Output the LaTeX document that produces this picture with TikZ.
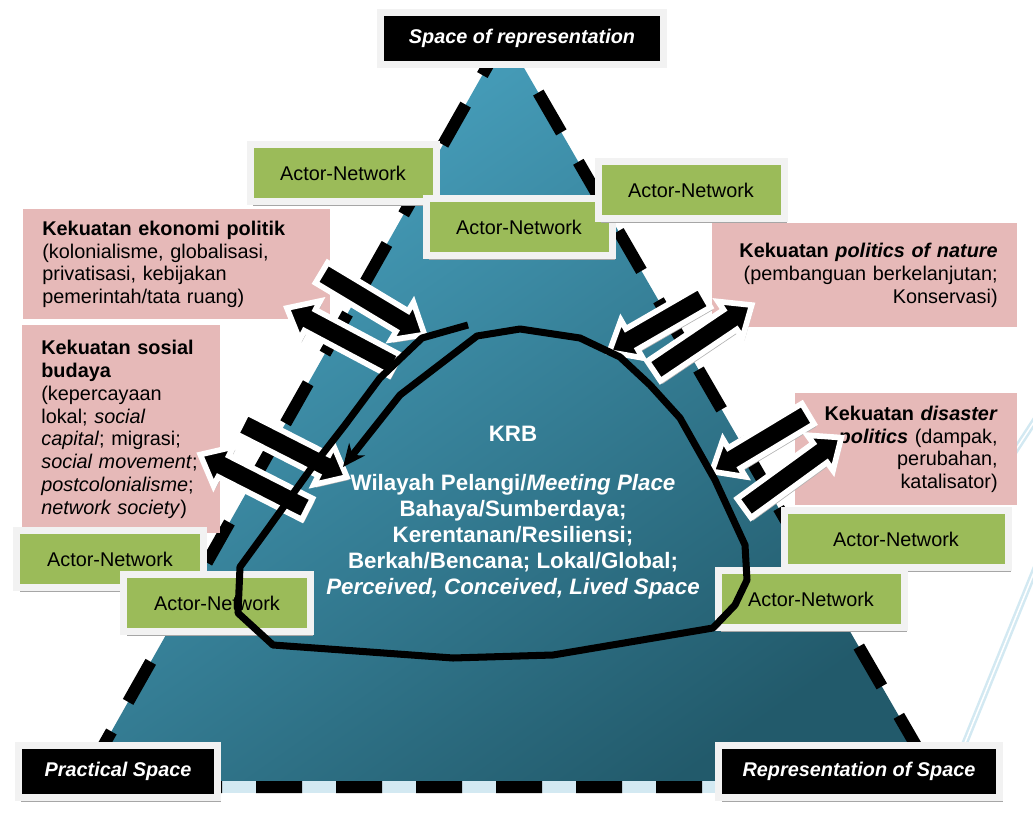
\documentclass[tikz,border=0pt]{standalone}
\usepackage{fontspec}
\setmainfont{Liberation Sans}
\usetikzlibrary{shapes.arrows,arrows.meta,shadows}
\definecolor{Pinky}{HTML}{E6B9B8}
\definecolor{Leaf}{HTML}{9BBB59}
\definecolor{Frame}{HTML}{F2F2F2}
\definecolor{KrbTop}{HTML}{4AA5C3}
\definecolor{KrbBot}{HTML}{225A6B}
\definecolor{Mist}{HTML}{D3E9F2}

\begin{document}
\begin{tikzpicture}[x=0.2mm,y=-0.2mm,
  every node/.style={font=\fontsize{11.3}{13}\selectfont},
  force/.style={fill=Pinky, inner xsep=0.38cm, inner ysep=0pt},
  actor/.style={fill=Leaf, draw=Frame, line width=1.4mm, minimum width=3.72cm,
    minimum height=1.14cm, inner sep=0pt,
    drop shadow={shadow xshift=0.6mm, shadow yshift=-0.8mm, fill=black!35, opacity=1}},
  spacebox/.style={fill=black, draw=Frame, line width=1.4mm, text=white,
    font=\fontsize{11.3}{13}\selectfont\bfseries\itshape, minimum height=1.04cm, inner sep=0pt,
    drop shadow={shadow xshift=0.6mm, shadow yshift=-0.8mm, fill=black!35, opacity=1}},
  blockarr/.style={single arrow, fill=black, draw=white, line width=3.2pt,
    inner xsep=0pt, inner ysep=0.18cm, single arrow head extend=0.2cm,
    single arrow tip angle=80,
    drop shadow={shadow xshift=0.4mm, shadow yshift=-0.6mm, fill=black!30, opacity=1}}]
  \useasboundingbox (0,0) rectangle (1033,818);

  \coordinate (apex) at (505,35);
  \coordinate (bl) at (80,787);
  \coordinate (br) at (940,787);
  \draw[Mist, line width=0.05cm, double=white, double distance=0.03cm] (1045,405) -- (996,480);
  \draw[Mist, line width=0.05cm, double=white, double distance=0.03cm] (1045,545) -- (947,787);
  \shade[top color=KrbTop, bottom color=KrbBot, shading angle=35] (apex) -- (bl) -- (br) -- cycle;
  \draw[Mist, line width=0.24cm] (bl) -- (br);
  \draw[line width=0.24cm, line join=bevel, dash pattern=on 0.92cm off 0.68cm] (apex) -- (bl) -- (br) -- cycle;

  \node[force, anchor=north west, text width=5.38cm, minimum height=2.2cm, align=left] (ekonomi) at (23,209)
    {\textbf{Kekuatan ekonomi politik}\\(kolonialisme, globalisasi,\\privatisasi, kebijakan\\pemerintah/tata ruang)};
  \node[force, anchor=north west, text width=3.2cm, minimum height=4.16cm, align=left] (sosial) at (22,325)
    {\textbf{Kekuatan sosial}\\\textbf{budaya}\\(kepercayaan\\lokal; \textit{social}\\\textit{capital}; migrasi;\\\textit{social movement};\\\textit{postcolonialisme};\\\textit{network society})};
  \node[force, anchor=north east, text width=5.34cm, minimum height=2.08cm, align=right] (nature) at (1017,223)
    {\textbf{Kekuatan \textit{politics of nature}}\\(pembanguan berkelanjutan;\\Konservasi)};
  \node[force, anchor=north east, text width=3.68cm, minimum height=2.24cm, align=right] (disaster) at (1017,393)
    {\textbf{Kekuatan \textit{disaster}}\\\textbf{\textit{politics}} (dampak,\\perubahan,\\katalisator)};

  \node[actor] (an1) at (343,173) {Actor-Network};
  \node[actor] (an2) at (519,227) {Actor-Network};
  \node[actor] (an3) at (691,190) {Actor-Network};
  \node[actor] (an4) at (110,559) {Actor-Network};
  \node[actor] (an5) at (217,603) {Actor-Network};
  \node[actor, minimum width=4.48cm] (an6) at (896,539) {Actor-Network};
  \node[actor] (an7) at (811,599) {Actor-Network};

  \node[spacebox, minimum width=5.66cm] (repr) at (522,38.5) {Space of representation};
  \node[spacebox, minimum width=3.98cm] (practical) at (118,771.5) {Practical Space};
  \node[spacebox, minimum width=5.62cm] (reprof) at (859,771.5) {Representation of Space};

  \node[blockarr, minimum height=2.4cm, rotate=-31] (ekoIn) at (367,300) {};
  \node[blockarr, minimum height=2.44cm, rotate=152] (ekoOut) at (347,340) {};
  \node[blockarr, minimum height=2.36cm, rotate=-27] (sosIn) at (288,447) {};
  \node[blockarr, minimum height=2.4cm, rotate=153] (sosOut) at (260,485) {};
  \node[blockarr, minimum height=2.2cm, rotate=210] (natIn) at (663,321) {};
  \node[blockarr, minimum height=2.36cm, rotate=34] (natOut) at (697,342) {};
  \node[blockarr, minimum height=2.24cm, rotate=211] (disIn) at (766,439) {};
  \node[blockarr, minimum height=2.4cm, rotate=36] (disOut) at (787,477) {};

  \draw[line width=4pt, line join=round, -{Stealth[length=0.45cm, width=0.4cm]}]
    (468,325) -- (422,338) -- (380,378) -- (345,425) -- (310,470) -- (267,530) -- (240,567)
    -- (238,613) -- (273,645) -- (453,658) -- (553,655) -- (713,628) -- (735,605) -- (747,580)
    -- (745,545) -- (715,480) -- (680,418) -- (650,385) -- (620,357) -- (580,338) -- (520,329)
    -- (477,336) -- (400,395) -- (343,467);

  \node[text=white, align=center, font=\fontsize{12.7}{14.8}\selectfont\bfseries] (krb) at (513,513)
    {KRB\\[13pt]Wilayah Pelangi/\textit{Meeting Place}\\Bahaya/Sumberdaya;\\Kerentanan/Resiliensi;\\Berkah/Bencana; Lokal/Global;\\\textit{Perceived, Conceived, Lived Space}};
\end{tikzpicture}
\end{document}
